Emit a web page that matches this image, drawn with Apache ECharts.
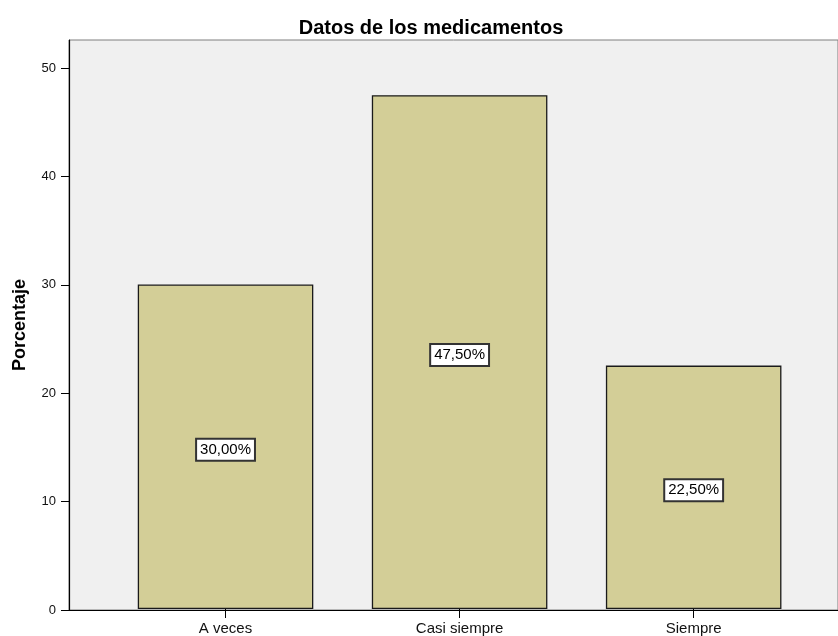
<!DOCTYPE html>
<html>
<head>
<meta charset="utf-8">
<script src="https://cdn.jsdelivr.net/npm/echarts@6/dist/echarts.min.js"></script>
<style>
  html, body { margin: 0; padding: 0; background: #fff; }
  #chart { width: 838px; height: 636px; }
</style>
</head>
<body>
<div id="chart"></div>
<script>
// Frecuencias de uso de medicamentos (porcentaje)
const categories = ['A veces', 'Casi siempre', 'Siempre'];
const porcentajes = [30.0, 47.5, 22.5];
const yTicks = [0, 10, 20, 30, 40, 50];
const yMax = 52.6;

const font = 'Liberation Sans, Arial, sans-serif';

const chart = echarts.init(document.getElementById('chart'), null, { renderer: 'canvas' });

chart.setOption({
  backgroundColor: '#ffffff',
  animation: false,
  title: {
    text: 'Datos de los medicamentos',
    left: 426,
    textAlign: 'center',
    top: 13,
    textStyle: { fontFamily: font, fontSize: 20, fontWeight: 'bold', color: '#000' }
  },
  grid: [
    // frame with the light grey plotting background
    { left: 69, right: -3, top: 40, bottom: 26, show: true,
      backgroundColor: '#f0f0f0', borderColor: '#7f7f7f', borderWidth: 1 },
    // bars
    { left: 108.5, right: 27.3, top: 40, bottom: 26 }
  ],
  xAxis: [
    { gridIndex: 0, type: 'value', min: 0, max: 1,
      axisLine: { show: true, onZero: false, lineStyle: { color: '#000', width: 1.2 } },
      axisTick: { show: false }, axisLabel: { show: false }, splitLine: { show: false } },
    { gridIndex: 1, type: 'category', data: categories,
      axisLine: { show: false },
      axisTick: { show: true, alignWithLabel: true, length: 9, lineStyle: { color: '#000' } },
      axisLabel: { fontFamily: font, fontSize: 15, color: '#111', margin: 12 } }
  ],
  yAxis: [
    { gridIndex: 0, type: 'value', min: 0, max: yMax,
      name: 'Porcentaje', nameLocation: 'middle', nameGap: 40,
      nameTextStyle: { fontFamily: font, fontSize: 18, fontWeight: 'bold', color: '#000' },
      axisLine: { show: true, lineStyle: { color: '#000', width: 1.2 } },
      axisTick: { show: true, length: 8, customValues: yTicks, lineStyle: { color: '#000' } },
      axisLabel: { fontFamily: font, fontSize: 13, color: '#111', margin: 13, customValues: yTicks },
      splitLine: { show: false } },
    { gridIndex: 1, type: 'value', min: 0, max: yMax, show: false, splitLine: { show: false } }
  ],
  series: [{
    type: 'bar',
    xAxisIndex: 1, yAxisIndex: 1,
    data: porcentajes,
    barWidth: '75%',
    itemStyle: { color: '#d3ce97', borderColor: '#1a1a1a', borderWidth: 1.3 },
    label: {
      show: true,
      position: 'inside',
      offset: [0, 3],
      formatter: p => p.value.toFixed(2).replace('.', ',') + '%',
      fontFamily: font, fontSize: 15, color: '#000',
      backgroundColor: '#fff', borderColor: '#333', borderWidth: 2,
      padding: [3, 3, 2, 3]
    }
  }]
});
</script>
</body>
</html>
